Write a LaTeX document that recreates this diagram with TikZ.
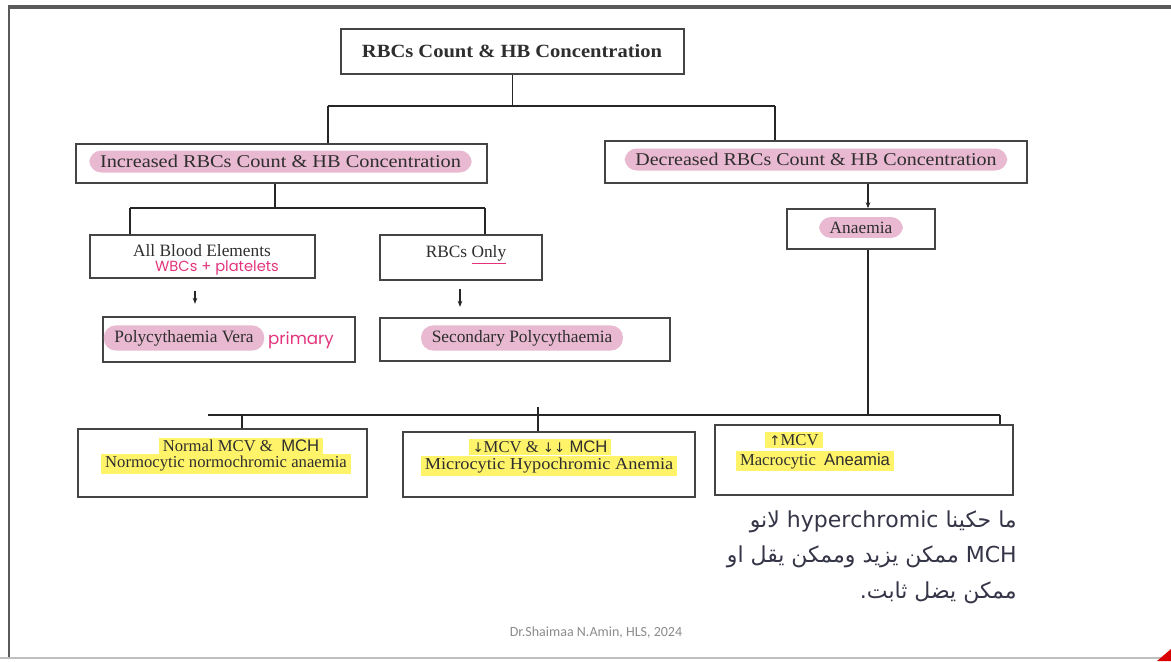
\documentclass[tikz,border=0pt]{standalone}
\usepackage{graphicx}
\usepackage{fontspec}
\setmainfont{Liberation Serif}
\setsansfont{Liberation Sans}
\newfontfamily\arabicfont[Script=Arabic]{DejaVu Sans}
\newfontfamily\handfont{Poppins}
\newfontfamily\footfont{Carlito}
\newfontfamily\symfont{DejaVu Sans}
\TeXXeTstate=1
\usetikzlibrary{calc,arrows.meta}
\definecolor{txt}{HTML}{2E2E2E}
\definecolor{boxc}{HTML}{444444}
\definecolor{pinkc}{HTML}{E8B9D0}
\definecolor{yel}{HTML}{FFF36A}
\definecolor{hand}{HTML}{E2357D}
\definecolor{arc}{HTML}{353548}
\definecolor{framec}{HTML}{5A5A5A}
\begin{document}
\begin{tikzpicture}[x=0.75pt,y=-0.75pt,
  box/.style={draw=boxc, line width=1.2pt, inner sep=0pt},
  bx/.style 2 args={minimum width=#1*0.75pt, minimum height=#2*0.75pt},
  conn/.style={draw=black!85, line width=0.9pt},
  arr/.style={conn, -{Stealth[length=4.5pt,width=3.5pt]}},
  pk/.style={fill=pinkc, rounded corners=9pt, inner xsep=8pt, inner ysep=3.5pt, text=txt, font=\fontsize{13}{15}\selectfont},
  pkbig/.style={pk, font=\fontsize{13.5}{15}\selectfont},
  plain/.style={inner sep=1pt, text=txt, font=\fontsize{13}{15}\selectfont},
  hl/.style={fill=yel, inner xsep=3pt, inner ysep=1.5pt, text=txt, font=\fontsize{12.5}{14}\selectfont},
  hw/.style={inner sep=0pt, text=hand, font=\handfont\fontsize{11}{13}\selectfont},
  arab/.style={inner sep=0pt, anchor=east, text=arc, font=\arabicfont\fontsize{16.5}{19}\selectfont}
]
\useasboundingbox (0,0) rectangle (1171,661);
\fill[white] (0,0) rectangle (1171,661);
% page frame
\draw[framec, line width=1.8pt] (9,658) -- (9,7);
\draw[framec, line width=2.3pt] (8,7) -- (1171,7);
\draw[black!25, line width=1.5pt] (0,658) -- (1171,658);
\fill[red!85!black] (1157,661) -- (1171,649) -- (1171,661) -- cycle;

% boxes
\node[box, bx={343}{45}] (top) at (512.5,51.5) {};
\node[box, bx={411}{39}] (inc) at (281.5,163.5) {};
\node[box, bx={422}{42}] (dec) at (816,162) {};
\node[box, bx={225}{43}] (abe) at (202.5,256.5) {};
\node[box, bx={162}{45}] (rbc) at (461,257.5) {};
\node[box, bx={252}{45}] (pv) at (229,339.5) {};
\node[box, bx={290}{43}] (sec) at (525,339.5) {};
\node[box, bx={148}{40}] (ana) at (861,229) {};
\node[box, bx={289}{68}] (b1) at (222.5,463) {};
\node[box, bx={292}{65}] (b2) at (549,464.5) {};
\node[box, bx={298}{70}] (b3) at (864,460) {};

% texts
\node[plain, font=\bfseries\fontsize{14}{16}\selectfont] (topT) at (512,51) {\scalebox{1.1}[1]{RBCs Count \& HB Concentration}};
\node[pkbig] (incT) at (280.5,161.5) {\scalebox{1.13}[1]{Increased RBCs Count \& HB Concentration}};
\node[pkbig] (decT) at (816,159.5) {\scalebox{1.11}[1]{Decreased RBCs Count \& HB Concentration}};
\node[plain] (abeT) at (202,251) {All Blood Elements};
\node[hw] (abeH) at (217,268) {WBCs + platelets};
\node[plain] (rbcT) at (466,255) {RBCs {\color{hand}\underline{\textcolor{txt}{Only}}}};
\node[pk] (pvT) at (184,338) {Polycythaemia Vera};
\node[hw, font=\handfont\fontsize{12.5}{14}\selectfont] (pvH) at (301,340) {primary};
\node[pk] (secT) at (522,338) {Secondary Polycythaemia};
\node[pk] (anaT) at (861,227.5) {Anaemia};

\node[hl] (b1a) at (241,446) {Normal MCV \&\ \ {\sffamily MCH}};
\node[hl] (b1b) at (226,464) {Normocytic normochromic anaemia};
\node[hl] (b2a) at (540,447) {{\symfont\fontsize{10}{12}\selectfont ↓}MCV \& {\symfont\fontsize{10}{12}\selectfont ↓↓}\ {\sffamily MCH}};
\node[hl] (b2b) at (549,466) {\scalebox{1.1}[1]{Microcytic Hypochromic Anemia}};
\node[hl] (b3a) at (794,440) {{\symfont\fontsize{10}{12}\selectfont ↑}MCV};
\node[hl] (b3b) at (815,461) {Macrocytic \ {\sffamily Aneamia}};

% arabic note
\node[arab] (ar1) at (1017,522) {\beginR ما حكينا \beginL hyperchromic\endL{} لانو\endR};
\node[arab] (ar2) at (1017,557) {\beginR\beginL MCH\endL{} ممكن يزيد وممكن يقل او\endR};
\node[arab] (ar3) at (1017,593) {\beginR ممكن يضل ثابت.\endR};

\node[inner sep=0pt, text=black!45, font=\footfont\fontsize{10.5}{12}\selectfont] (foot) at (596,633) {Dr.Shaimaa N.Amin, HLS, 2024};

% connectors level 1
\coordinate (cL) at (328,106);
\coordinate (cR) at (775,106);
\draw[conn] (top.south) -- (top.south |- cL);
\draw[conn] (cL) -- (cR);
\draw[conn] (cL) -- (cL |- inc.north);
\draw[conn] (cR) -- (cR |- dec.north);
% level 2 (increased)
\coordinate (dI) at (275,208);
\coordinate (dL) at (130,208);
\coordinate (dR) at (485,208);
\draw[conn] (dI |- inc.south) -- (dI);
\draw[conn] (dL) -- (dR);
\draw[conn] (dL) -- (dL |- abe.north);
\draw[conn] (dR) -- (dR |- rbc.north);
\draw[arr] ($(abe.south)+(-7.5,12)$) -- ($(abe.south)+(-7.5,25)$);
\draw[arr] ($(rbc.south)+(-1,8)$) -- ($(rbc.south)+(-1,26)$);
% decreased
\coordinate (aX) at (868,0);
\draw[arr] (dec.south -| aX) -- (ana.north -| aX);
\coordinate (hL) at (208,415);
\coordinate (hR) at (1000,415);
\coordinate (hM) at (538,407);
\coordinate (t1) at (242,415);
\draw[conn] (ana.south -| aX) -- (hL -| aX);
\draw[conn] (hL) -- (hR);
\draw[conn] (t1) -- (t1 |- b1.north);
\draw[conn] (hM) -- (hM |- b2.north);
\draw[conn] (hR) -- (hR |- b3.north);
\end{tikzpicture}
\end{document}
